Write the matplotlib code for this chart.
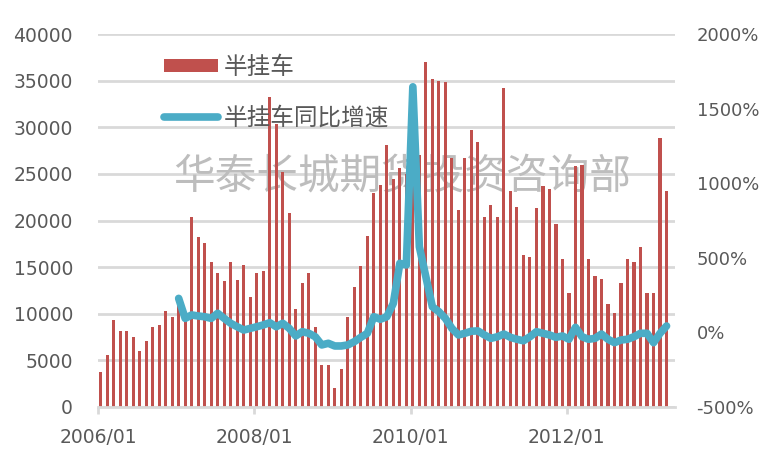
import matplotlib
matplotlib.use("Agg")
import matplotlib.pyplot as plt
import numpy as np

# monthly data 2006/01 - 2013/04
semi = [3700, 5600, 9300, 8200, 8100, 7500, 6000, 7100, 8600, 8800, 10300, 9700,
        11800, 9800, 20400, 18200, 17600, 15500, 14400, 13500, 15500, 13600, 15200, 11800,
        14400, 14600, 33200, 30300, 25200, 20800, 10500, 13300, 14400, 8600, 4500, 4500,
        2000, 4100, 9700, 12900, 15100, 18300, 23000, 23800, 28100, 24500, 25600, 25000,
        33500, 27000, 37000, 35200, 35000, 34800, 26700, 21100, 26700, 29700, 28400, 20400,
        21700, 20400, 34200, 23200, 21500, 16300, 16100, 21300, 23700, 23400, 19600, 15900,
        12200, 25800, 26000, 15900, 14000, 13700, 11000, 10100, 13300, 15900, 15500, 17200,
        12200, 12200, 28800, 23200]

# yoy growth (%) starts 2007/01
yoy = [228, 94, 117, 110, 105, 94, 128, 94, 61, 38, 16, 27,
       38, 50, 65, 38, 61, 27, -24, 5, -6, -29, -84, -73,
       -91, -91, -84, -62, -33, -6, 105, 88, 105, 195, 463, 452,
       1646, 574, 373, 172, 139, 94, 27, -17, -6, 8, 10, -17,
       -40, -29, -11, -33, -46, -56, -29, 5, -6, -17, -33, -24,
       -46, 34, -29, -46, -40, -11, -46, -69, -51, -46, -29, -6,
       -6, -69, -6, 43]

tick_labels = ["2006/01", "2008/01", "2010/01", "2012/01"]
tick_months = [0, 24, 48, 72]

plt.rcParams['font.family'] = ['DejaVu Sans', 'Noto Sans CJK SC']

bar_color = '#C0504D'
line_color = '#4BACC6'
grid_color = '#D9D9D9'
text_color = '#595959'

fig = plt.figure(figsize=(7.65, 4.55), dpi=100)
ax = fig.add_axes([98 / 765, 48 / 455, 577 / 765, 373 / 455])

x = np.arange(len(semi))
ax.bar(x, semi, width=0.48, color=bar_color, zorder=2, label='半挂车')

ax.set_ylim(0, 40000)
ax.set_yticks(np.arange(0, 40001, 5000))
ax.set_xlim(-0.4, 88.3)
ax.set_xticks([m - 0.35 for m in tick_months])
ax.set_xticklabels(tick_labels)

ax.yaxis.grid(True, color=grid_color, lw=2, zorder=0)
ax.set_axisbelow(True)
for s in ['top', 'left', 'right']:
    ax.spines[s].set_visible(False)
ax.spines['bottom'].set_color(grid_color)
ax.spines['bottom'].set_linewidth(2)
ax.tick_params(axis='y', length=0, pad=18, labelsize=13.5, labelcolor=text_color)
ax.tick_params(axis='x', length=5, width=2, color=grid_color, pad=10,
               labelsize=13.5, labelcolor=text_color)

ax.text(0.527, 0.614, '华泰长城期货投资咨询部', transform=ax.transAxes,
        ha='center', va='center', fontsize=30, color='#bdbdbd',
        family=['Noto Sans CJK SC', 'DejaVu Sans'], zorder=1.5)

ax2 = ax.twinx()
ax2.plot(x[12:], yoy, color=line_color, lw=5.5, solid_capstyle='round',
         solid_joinstyle='round', label='半挂车同比增速')
ax2.set_ylim(-500, 2000)
ax2.set_yticks(np.arange(-500, 2001, 500))
ax2.set_yticklabels([f"{v}%" for v in range(-500, 2001, 500)])
for s in ['top', 'left', 'right', 'bottom']:
    ax2.spines[s].set_visible(False)
ax2.tick_params(axis='y', length=0, pad=15.5, labelsize=13, labelcolor=text_color)

h1, l1 = ax.get_legend_handles_labels()
h2, l2 = ax2.get_legend_handles_labels()
leg = fig.legend(h1 + h2, l1 + l2, loc='upper left',
                 bbox_to_anchor=(164 / 765, 1 - 56 / 455),
                 frameon=False, fontsize=17, handlelength=2.3, handleheight=0.5,
                 handletextpad=0.25, labelspacing=1.15, borderpad=0, borderaxespad=0,
                 prop={'family': ['Noto Sans CJK SC', 'DejaVu Sans'], 'size': 17})
for t in leg.get_texts():
    t.set_color(text_color)

fig.savefig('out.png', dpi=100)
